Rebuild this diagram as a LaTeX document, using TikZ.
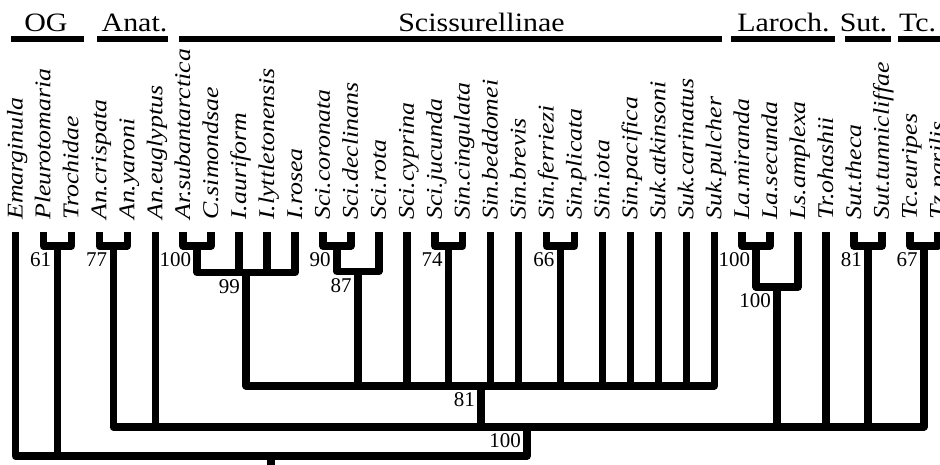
\documentclass[tikz,border=0pt]{standalone}
\usepackage{fontspec}
\setmainfont{Liberation Serif}
\newfontfamily\taxfont[FakeStretch=1.15]{Liberation Serif}
\newfontfamily\headfont[FakeStretch=1.13]{Liberation Serif}
\begin{document}
\begin{tikzpicture}[x=1pt,y=-1pt,
  br/.style={line width=7.5pt, line join=round},
  taxon/.style={rotate=90, anchor=base west, inner sep=0pt, font=\taxfont\itshape\fontsize{22.5}{27}\selectfont},
  bs/.style={anchor=north east, inner sep=0pt, font=\fontsize{21}{25}\selectfont},
  head/.style={anchor=base, inner sep=0pt, font=\headfont\fontsize{26.5}{30}\selectfont},
  hbar/.style={line width=6pt}]
\useasboundingbox (0,0) rectangle (940,465);
\clip (0,0) rectangle (940,465);
\fill[white] (0,0) rectangle (940,465);

% headings
\node[head] (hOG) at (46,32) {OG};
\node[head] (hAn) at (134.5,32) {Anat.};
\node[head] (hSc) at (481.5,32) {Scissurellinae};
\node[head] (hLa) at (783.5,32) {Laroch.};
\node[head] (hSu) at (863.5,32) {Sut.};
\node[head] (hTc) at (917.5,32) {Tc.};
\draw[hbar] (11,39) -- (84,39);
\draw[hbar] (97,39) -- (168,39);
\draw[hbar] (179,39) -- (722,39);
\draw[hbar] (731,39) -- (835,39);
\draw[hbar] (845,39) -- (891,39);
\draw[hbar] (898,39) -- (960,39);

% tips and taxon labels
\foreach \n [count=\i] in {Emarginula,Pleurotomaria,Trochidae,An.crispata,An.yaroni,An.euglyptus,Ar.subantarctica,C.simondsae,I.auriform,I.lyttletonensis,I.rosea,Sci.coronata,Sci.declinans,Sci.rota,Sci.cyprina,Sci.jucunda,Sin.cingulata,Sin.beddomei,Sin.brevis,Sin.ferriezi,Sin.plicata,Sin.iota,Sin.pacifica,Suk.atkinsoni,Suk.carinatus,Suk.pulcher,La.miranda,La.secunda,Ls.amplexa,Tr.ohashii,Sut.theca,Sut.tunnicliffae,Tc.euripes,Tz.parilis}{
  \coordinate (t\i) at ({15.5+27.95*(\i-1)},232);
  \node[taxon] (l\i) at ({22.5+27.95*(\i-1)},220) {\n};
}

% internal nodes
\coordinate (nPT) at (57.4,246);
\coordinate (nAn) at (113.3,246);
\coordinate (nArC) at (197.2,246);
\coordinate (nI) at (246.1,272.5);
\coordinate (nSciC) at (336.9,246);
\coordinate (nSciR) at (357.9,271.5);
\coordinate (nSJ) at (448.7,246);
\coordinate (nSF) at (560.5,246);
\coordinate (nScis) at (481,386);
\coordinate (nLa) at (756.2,246);
\coordinate (nLar) at (777.1,287);
\coordinate (nSut) at (867.95,246);
\coordinate (nTc) at (923.9,246);
\coordinate (nIn) at (527,427);
\coordinate (root) at (271,456);
\coordinate (rootend) at (271,475);

% branches
\draw[br] (t2) |- (nPT) -| (t3);
\draw[br] (t4) |- (nAn) -| (t5);
\draw[br] (t7) |- (nArC) -| (t8);
\draw[br] (nArC) |- (nI) -| (t11);
\foreach \c in {t9,t10} \draw[br] (\c) -- (\c |- nI);
\draw[br] (t12) |- (nSciC) -| (t13);
\draw[br] (nSciC) |- (nSciR) -| (t14);
\draw[br] (t16) |- (nSJ) -| (t17);
\draw[br] (t20) |- (nSF) -| (t21);
\draw[br] (nI) |- (nScis) -| (t26);
\foreach \c in {nSciR,t15,nSJ,t18,t19,nSF,t22,t23,t24,t25} \draw[br] (\c) -- (\c |- nScis);
\draw[br] (t27) |- (nLa) -| (t28);
\draw[br] (nLa) |- (nLar) -| (t29);
\draw[br] (t31) |- (nSut) -| (t32);
\draw[br] (t33) |- (nTc) -| (t34);
\draw[br] (nAn) |- (nIn) -| (nTc);
\foreach \c in {t6,nScis,nLar,t30,nSut} \draw[br] (\c) -- (\c |- nIn);
\draw[br] (t1) |- (root) -| (nIn);
\draw[br] (nPT) -- (nPT |- root);
\draw[br] (root) -- (rootend);

% support values
\node[bs] (b1) at ([shift={(-6,6.5)}]nPT) {61};
\node[bs] (b2) at ([shift={(-6,6.5)}]nAn) {77};
\node[bs] (b3) at ([shift={(-6,6.5)}]nArC) {100};
\node[bs] (b4) at ([shift={(-6,6.5)}]nI) {99};
\node[bs] (b5) at ([shift={(-6,6.5)}]nSciC) {90};
\node[bs] (b6) at ([shift={(-6,6.5)}]nSciR) {87};
\node[bs] (b7) at ([shift={(-6,6.5)}]nSJ) {74};
\node[bs] (b8) at ([shift={(-6,6.5)}]nSF) {66};
\node[bs] (b9) at ([shift={(-6,6.5)}]nScis) {81};
\node[bs] (b10) at ([shift={(-6,6.5)}]nIn) {100};
\node[bs] (b11) at ([shift={(-6,6.5)}]nLa) {100};
\node[bs] (b12) at ([shift={(-6,6.5)}]nLar) {100};
\node[bs] (b13) at ([shift={(-6,6.5)}]nSut) {81};
\node[bs] (b14) at ([shift={(-6,6.5)}]nTc) {67};
\end{tikzpicture}
\end{document}
